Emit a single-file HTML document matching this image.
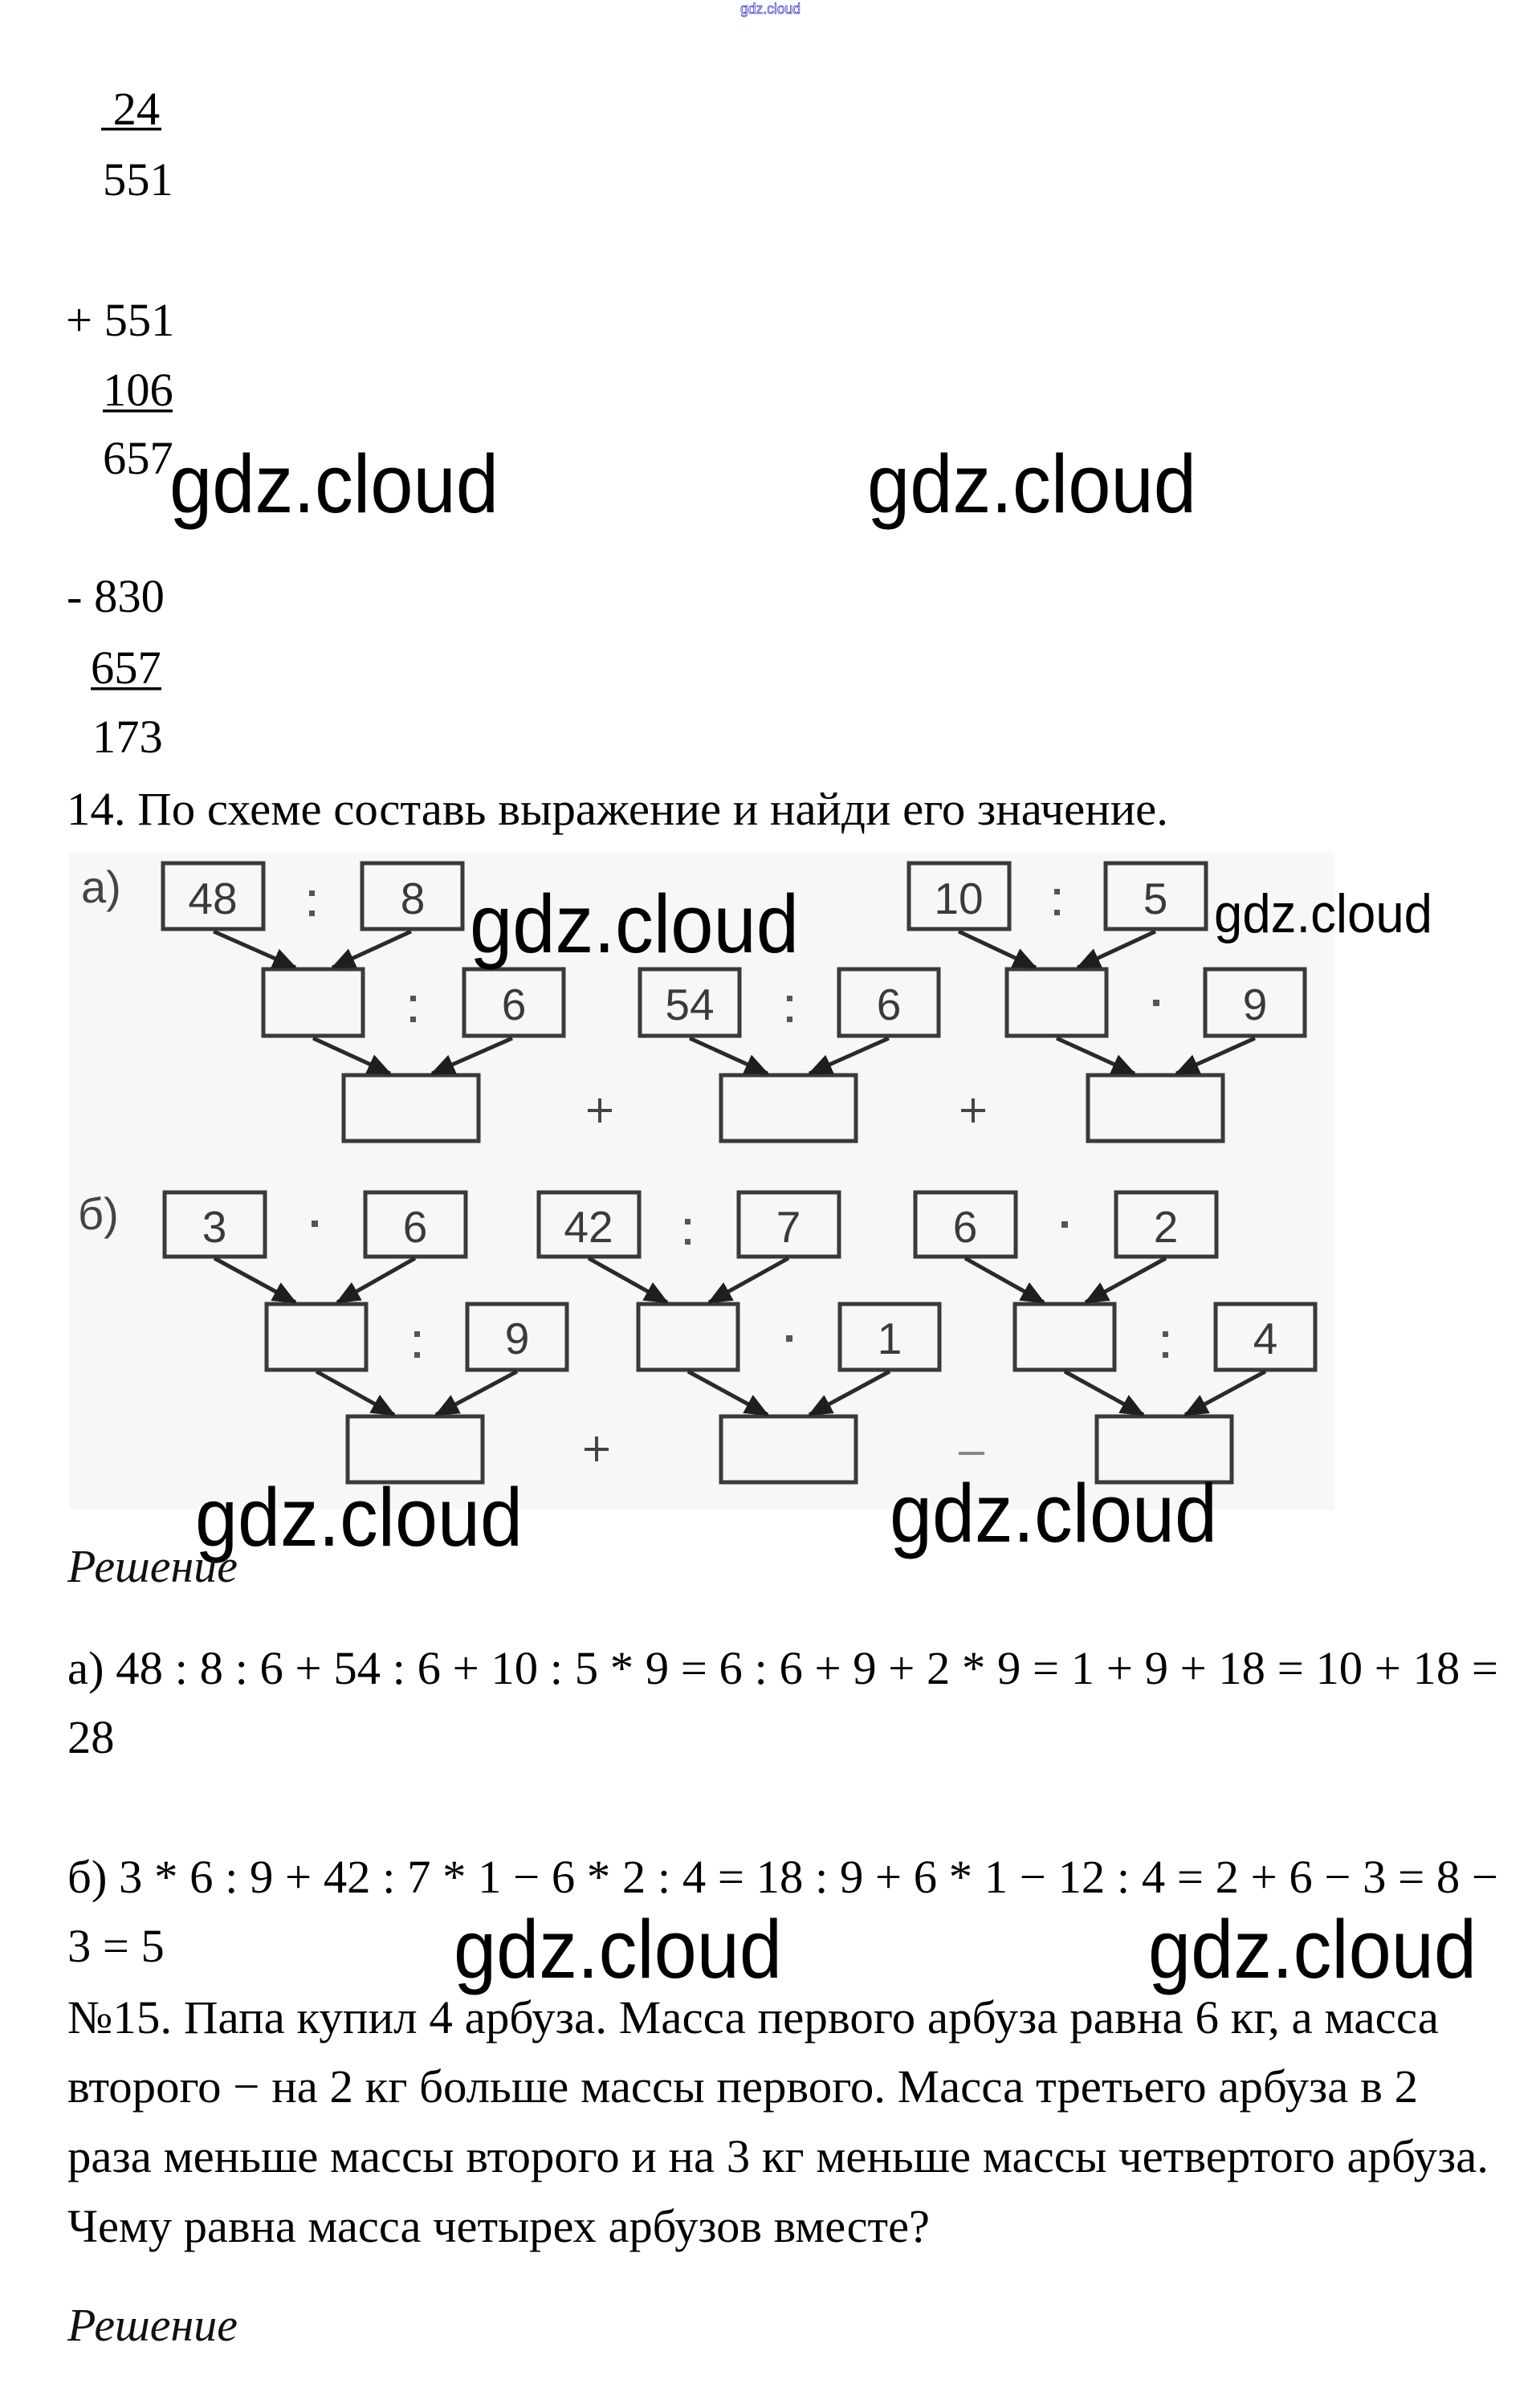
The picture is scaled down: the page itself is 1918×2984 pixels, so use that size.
<!DOCTYPE html>
<html><head><meta charset="utf-8"><style>
html,body{margin:0;padding:0;background:#fff;}
svg{display:block;}
.t{font-family:"Liberation Serif","Noto Serif CJK SC",serif;font-size:58.5px;fill:#000;}
.i{font-family:"Liberation Serif","Noto Serif CJK SC",serif;font-size:58.5px;font-style:italic;fill:#111;}
.w{font-family:"Liberation Sans","DejaVu Sans",sans-serif;font-size:103px;fill:#000;}
.ws{font-family:"Liberation Sans","DejaVu Sans",sans-serif;font-size:68px;fill:#000;}
.n{font-family:"Liberation Sans","DejaVu Sans",sans-serif;font-size:55px;fill:#3a3a3a;text-anchor:middle;}
.lb{font-family:"Liberation Sans","DejaVu Sans",sans-serif;font-size:56px;fill:#444;}
.bx{fill:none;stroke:#3a3a3a;stroke-width:5;}
.ar{stroke:#2a2a2a;stroke-width:5;fill:none;}
.dt{fill:#555;}
</style></head><body>
<svg width="1918" height="2984" viewBox="0 0 1918 2984" xmlns="http://www.w3.org/2000/svg">
<defs>
<marker id="ah" markerUnits="userSpaceOnUse" markerWidth="30" markerHeight="26" refX="28" refY="13" orient="auto">
<path d="M0,0 L30,13 L0,26 z" fill="#1e1e1e"/>
</marker>
</defs>
<rect width="1918" height="2984" fill="#fff"/>

<!-- tiny top watermark -->
<text x="922" y="17" font-family="Liberation Sans, sans-serif" font-size="18" fill="#fff" stroke="#3a3acc" stroke-width="0.8" textLength="75" lengthAdjust="spacingAndGlyphs">gdz.cloud</text>

<!-- column arithmetic -->
<text class="t" x="126" y="155" xml:space="preserve"> 24</text>
<rect x="126" y="159" width="75" height="3.5" fill="#000"/>
<text class="t" x="128" y="243">551</text>
<text class="t" x="82" y="418">+ 551</text>
<text class="t" x="128" y="505">106</text>
<rect x="128" y="510" width="87" height="3.5" fill="#000"/>
<text class="t" x="128" y="590">657</text>
<text class="w" x="211" y="638" textLength="410" lengthAdjust="spacingAndGlyphs">gdz.cloud</text>
<text class="w" x="1080" y="638" textLength="410" lengthAdjust="spacingAndGlyphs">gdz.cloud</text>
<text class="t" x="83" y="762">- 830</text>
<text class="t" x="113" y="851">657</text>
<rect x="113" y="856" width="88" height="3.5" fill="#000"/>
<text class="t" x="115" y="937">173</text>
<text class="t" x="83" y="1027" textLength="1372" lengthAdjust="spacingAndGlyphs">14. По схеме составь выражение и найди его значение.</text>

<!-- diagram background -->
<rect x="86" y="1062" width="1576" height="818" fill="#f7f7f7"/>

<!-- labels -->
<text class="lb" x="101" y="1124">а)</text>
<text class="lb" x="97" y="1531">б)</text>

<!-- Row a, level 1 -->
<rect class="bx" x="203" y="1075" width="125" height="82"/>
<text class="n" x="265" y="1138">48</text>
<rect class="bx" x="451" y="1075" width="125" height="82"/>
<text class="n" x="514" y="1138">8</text>
<rect class="bx" x="1132" y="1075" width="125" height="82"/>
<text class="n" x="1194" y="1138">10</text>
<rect class="bx" x="1377" y="1075" width="125" height="82"/>
<text class="n" x="1439" y="1138">5</text>
<rect class="dt" x="385" y="1109" width="7" height="7"/><rect class="dt" x="385" y="1134" width="7" height="7"/>
<rect class="dt" x="1313" y="1107" width="7" height="7"/><rect class="dt" x="1313" y="1133" width="7" height="7"/>

<!-- Row a, level 2 -->
<rect class="bx" x="328" y="1207" width="124" height="83"/>
<rect class="bx" x="578" y="1207" width="124" height="83"/>
<text class="n" x="640" y="1270">6</text>
<rect class="bx" x="797" y="1207" width="124" height="83"/>
<text class="n" x="859" y="1270">54</text>
<rect class="dt" x="980" y="1240" width="7" height="7"/><rect class="dt" x="980" y="1266" width="7" height="7"/>
<rect class="bx" x="1045" y="1207" width="124" height="83"/>
<text class="n" x="1107" y="1270">6</text>
<rect class="bx" x="1254" y="1207" width="124" height="83"/>
<rect class="bx" x="1501" y="1207" width="124" height="83"/>
<text class="n" x="1563" y="1270">9</text>
<rect class="dt" x="511" y="1240" width="7" height="7"/><rect class="dt" x="511" y="1266" width="7" height="7"/>
<rect class="dt" x="1436" y="1245" width="8" height="8"/>

<!-- Row a, level 3 -->
<rect class="bx" x="428" y="1339" width="168" height="82"/>
<rect class="bx" x="898" y="1339" width="168" height="82"/>
<rect class="bx" x="1355" y="1339" width="168" height="82"/>
<line x1="732" y1="1383" x2="762" y2="1383" stroke="#444" stroke-width="4"/>
<line x1="747" y1="1368" x2="747" y2="1398" stroke="#444" stroke-width="4"/>
<line x1="1197" y1="1383" x2="1227" y2="1383" stroke="#444" stroke-width="4"/>
<line x1="1212" y1="1368" x2="1212" y2="1398" stroke="#444" stroke-width="4"/>

<!-- Row a arrows -->
<line class="ar" x1="266" y1="1160" x2="368" y2="1205" marker-end="url(#ah)"/>
<line class="ar" x1="512" y1="1160" x2="414" y2="1205" marker-end="url(#ah)"/>
<line class="ar" x1="1194" y1="1160" x2="1290" y2="1205" marker-end="url(#ah)"/>
<line class="ar" x1="1439" y1="1160" x2="1342" y2="1205" marker-end="url(#ah)"/>
<line class="ar" x1="390" y1="1293" x2="486" y2="1337" marker-end="url(#ah)"/>
<line class="ar" x1="638" y1="1293" x2="538" y2="1337" marker-end="url(#ah)"/>
<line class="ar" x1="859" y1="1293" x2="956" y2="1337" marker-end="url(#ah)"/>
<line class="ar" x1="1107" y1="1293" x2="1008" y2="1337" marker-end="url(#ah)"/>
<line class="ar" x1="1316" y1="1293" x2="1413" y2="1337" marker-end="url(#ah)"/>
<line class="ar" x1="1563" y1="1293" x2="1465" y2="1337" marker-end="url(#ah)"/>

<!-- Row b, level 1 -->
<rect class="bx" x="205" y="1485" width="125" height="80"/>
<text class="n" x="267" y="1547">3</text>
<rect class="bx" x="455" y="1485" width="125" height="80"/>
<text class="n" x="517" y="1547">6</text>
<rect class="bx" x="671" y="1485" width="125" height="80"/>
<text class="n" x="733" y="1547">42</text>
<rect class="bx" x="920" y="1485" width="125" height="80"/>
<text class="n" x="982" y="1547">7</text>
<rect class="bx" x="1140" y="1485" width="125" height="80"/>
<text class="n" x="1202" y="1547">6</text>
<rect class="bx" x="1390" y="1485" width="125" height="80"/>
<text class="n" x="1452" y="1547">2</text>
<rect class="dt" x="388" y="1520" width="8" height="8"/>
<rect class="dt" x="853" y="1518" width="7" height="7"/><rect class="dt" x="853" y="1543" width="7" height="7"/>
<rect class="dt" x="1322" y="1521" width="8" height="8"/>

<!-- Row b, level 2 -->
<rect class="bx" x="332" y="1624" width="124" height="82"/>
<rect class="bx" x="582" y="1624" width="124" height="82"/>
<text class="n" x="644" y="1686">9</text>
<rect class="bx" x="795" y="1624" width="124" height="82"/>
<rect class="bx" x="1046" y="1624" width="124" height="82"/>
<text class="n" x="1108" y="1686">1</text>
<rect class="bx" x="1264" y="1624" width="124" height="82"/>
<rect class="bx" x="1514" y="1624" width="124" height="82"/>
<text class="n" x="1576" y="1686">4</text>
<rect class="dt" x="516" y="1658" width="7" height="7"/><rect class="dt" x="516" y="1684" width="7" height="7"/>
<rect class="dt" x="979" y="1663" width="8" height="8"/>
<rect class="dt" x="1448" y="1658" width="7" height="7"/><rect class="dt" x="1448" y="1684" width="7" height="7"/>

<!-- Row b, level 3 -->
<rect class="bx" x="433" y="1764" width="168" height="82"/>
<rect class="bx" x="898" y="1764" width="168" height="82"/>
<rect class="bx" x="1366" y="1764" width="168" height="82"/>
<line x1="728" y1="1805" x2="758" y2="1805" stroke="#444" stroke-width="4"/>
<line x1="743" y1="1789" x2="743" y2="1820" stroke="#444" stroke-width="4"/>
<line x1="1194" y1="1810" x2="1226" y2="1810" stroke="#888" stroke-width="4"/>

<!-- Row b arrows -->
<line class="ar" x1="267" y1="1567" x2="368" y2="1622" marker-end="url(#ah)"/>
<line class="ar" x1="517" y1="1567" x2="420" y2="1622" marker-end="url(#ah)"/>
<line class="ar" x1="733" y1="1567" x2="831" y2="1622" marker-end="url(#ah)"/>
<line class="ar" x1="982" y1="1567" x2="883" y2="1622" marker-end="url(#ah)"/>
<line class="ar" x1="1202" y1="1567" x2="1300" y2="1622" marker-end="url(#ah)"/>
<line class="ar" x1="1452" y1="1567" x2="1352" y2="1622" marker-end="url(#ah)"/>
<line class="ar" x1="394" y1="1708" x2="491" y2="1762" marker-end="url(#ah)"/>
<line class="ar" x1="644" y1="1708" x2="543" y2="1762" marker-end="url(#ah)"/>
<line class="ar" x1="857" y1="1708" x2="956" y2="1762" marker-end="url(#ah)"/>
<line class="ar" x1="1108" y1="1708" x2="1008" y2="1762" marker-end="url(#ah)"/>
<line class="ar" x1="1326" y1="1708" x2="1424" y2="1762" marker-end="url(#ah)"/>
<line class="ar" x1="1576" y1="1708" x2="1476" y2="1762" marker-end="url(#ah)"/>

<!-- diagram watermarks -->
<text class="w" x="585" y="1186" textLength="410" lengthAdjust="spacingAndGlyphs">gdz.cloud</text>
<text class="ws" x="1512" y="1161" textLength="272" lengthAdjust="spacingAndGlyphs">gdz.cloud</text>
<text class="w" x="243" y="1925" textLength="408" lengthAdjust="spacingAndGlyphs">gdz.cloud</text>
<text class="w" x="1108" y="1920" textLength="408" lengthAdjust="spacingAndGlyphs">gdz.cloud</text>

<text class="i" x="84" y="1970" textLength="212" lengthAdjust="spacingAndGlyphs">Решение</text>

<!-- solution -->
<text class="t" x="84" y="2097" textLength="1782" lengthAdjust="spacingAndGlyphs">а) 48 : 8 : 6 + 54 : 6 + 10 : 5 * 9 = 6 : 6 + 9 + 2 * 9 = 1 + 9 + 18 = 10 + 18 =</text>
<text class="t" x="84" y="2183">28</text>
<text class="t" x="84" y="2357" textLength="1782" lengthAdjust="spacingAndGlyphs">б) 3 * 6 : 9 + 42 : 7 * 1 − 6 * 2 : 4 = 18 : 9 + 6 * 1 − 12 : 4 = 2 + 6 − 3 = 8 −</text>
<text class="t" x="84" y="2443">3 = 5</text>
<text class="w" x="565" y="2463" textLength="409" lengthAdjust="spacingAndGlyphs">gdz.cloud</text>
<text class="w" x="1430" y="2463" textLength="409" lengthAdjust="spacingAndGlyphs">gdz.cloud</text>
<text class="t" x="84" y="2532" textLength="1708" lengthAdjust="spacingAndGlyphs">№15. Папа купил 4 арбуза. Масса первого арбуза равна 6 кг, а масса</text>
<text class="t" x="84" y="2618" textLength="1682" lengthAdjust="spacingAndGlyphs">второго − на 2 кг больше массы первого. Масса третьего арбуза в 2</text>
<text class="t" x="84" y="2705" textLength="1770" lengthAdjust="spacingAndGlyphs">раза меньше массы второго и на 3 кг меньше массы четвертого арбуза.</text>
<text class="t" x="84" y="2792" textLength="1074" lengthAdjust="spacingAndGlyphs">Чему равна масса четырех арбузов вместе?</text>
<text class="i" x="84" y="2915" textLength="212" lengthAdjust="spacingAndGlyphs">Решение</text>
</svg>
</body></html>
